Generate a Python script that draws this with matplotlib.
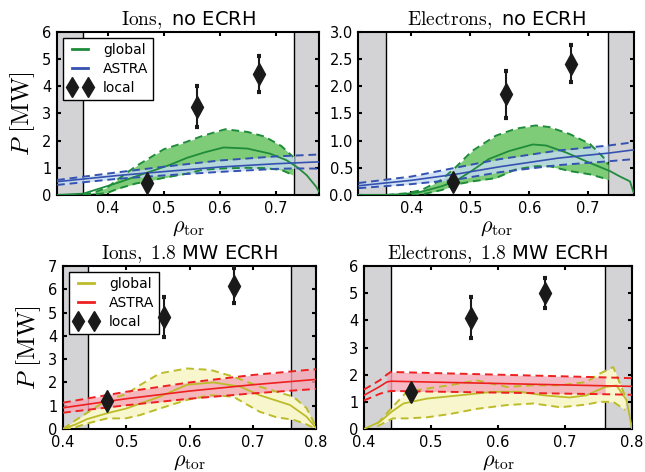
import matplotlib
matplotlib.use('Agg')
import matplotlib.pyplot as plt
import numpy as np
from matplotlib.lines import Line2D

plt.rcParams['mathtext.fontset'] = 'cm'
plt.rcParams['font.family'] = 'DejaVu Sans'

# --- local (diamonds with error bars) ---
rho_loc = [0.47, 0.56, 0.67]
P_loc_i0 = [0.45, 3.25, 4.45]
err_loc_i0 = [0.15, 0.75, 0.65]
P_loc_e0 = [0.23, 1.85, 2.42]
err_loc_e0 = [0.1, 0.44, 0.34]
P_loc_i1 = [1.2, 4.8, 6.15]
err_loc_i1 = [0.18, 0.85, 0.75]
P_loc_e1 = [1.38, 4.1, 5.0]
err_loc_e1 = [0.2, 0.75, 0.55]

# --- global band, ions no ECRH ---
rho_band_i0 = [0.357, 0.38, 0.40, 0.42, 0.45, 0.47, 0.50, 0.54, 0.57, 0.61, 0.65, 0.68, 0.71, 0.731]
up_i0 = [0.0, 0.12, 0.28, 0.6, 1.05, 1.3, 1.68, 1.95, 2.18, 2.42, 2.32, 2.15, 1.8, 1.4]
lo_i0 = [0.0, 0.03, 0.08, 0.24, 0.42, 0.5, 0.63, 0.78, 0.93, 0.98, 1.0, 0.99, 0.92, 0.73]
rho_mid_i0 = [0.31, 0.357, 0.377, 0.40, 0.424, 0.45, 0.483, 0.51, 0.542, 0.575, 0.607, 0.649, 0.69, 0.719, 0.737, 0.755, 0.772, 0.777]
mid_i0 = [0.0, 0.05, 0.18, 0.33, 0.49, 0.68, 0.91, 1.1, 1.37, 1.58, 1.75, 1.71, 1.52, 1.28, 1.04, 0.73, 0.3, 0.12]

# --- global band, electrons no ECRH ---
rho_band_e0 = [0.357, 0.39, 0.417, 0.451, 0.474, 0.503, 0.543, 0.577, 0.611, 0.634, 0.669, 0.703, 0.726, 0.734]
up_e0 = [0.0, 0.03, 0.09, 0.28, 0.5, 0.81, 1.09, 1.22, 1.28, 1.25, 1.12, 0.94, 0.69, 0.56]
lo_e0 = [0.0, 0.0, 0.01, 0.09, 0.19, 0.25, 0.31, 0.47, 0.53, 0.53, 0.44, 0.38, 0.31, 0.28]
rho_mid_e0 = [0.31, 0.357, 0.39, 0.417, 0.451, 0.474, 0.503, 0.531, 0.566, 0.606, 0.629, 0.663, 0.703, 0.737, 0.754, 0.771, 0.777]
mid_e0 = [0.0, 0.0, 0.02, 0.06, 0.16, 0.25, 0.45, 0.66, 0.81, 0.93, 0.91, 0.78, 0.59, 0.44, 0.34, 0.25, 0.05]

# --- ASTRA, no ECRH ---
rho_ast_i0 = [0.31, 0.42, 0.5, 0.6, 0.7, 0.733, 0.777]
ast_i0 = [0.49, 0.72, 0.86, 1.03, 1.15, 1.18, 1.22]
ast_up_i0 = [0.55, 0.84, 1.04, 1.27, 1.42, 1.45, 1.49]
ast_lo_i0 = [0.37, 0.6, 0.72, 0.85, 0.96, 0.98, 0.97]
rho_ast_e0 = [0.31, 0.4, 0.474, 0.55, 0.65, 0.734, 0.777]
ast_e0 = [0.17, 0.27, 0.38, 0.52, 0.68, 0.77, 0.83]
ast_up_e0 = [0.22, 0.34, 0.5, 0.66, 0.82, 0.91, 0.97]
ast_lo_e0 = [0.125, 0.2, 0.28, 0.42, 0.55, 0.62, 0.66]

# --- global band, ions 1.8 MW ECRH ---
rho_band_i1 = [0.40, 0.416, 0.44, 0.469, 0.5, 0.522, 0.553, 0.596, 0.633, 0.669, 0.711, 0.738, 0.764, 0.785, 0.8]
up_i1 = [0.0, 0.31, 0.73, 1.24, 1.5, 1.89, 2.39, 2.6, 2.54, 2.25, 1.82, 1.6, 1.39, 0.9, 0.1]
lo_i1 = [0.0, 0.05, 0.25, 0.45, 0.46, 0.6, 0.88, 1.25, 1.45, 1.39, 0.74, 0.5, 0.4, 0.2, 0.0]
rho_mid_i1 = [0.40, 0.42, 0.4375, 0.47, 0.5, 0.553, 0.596, 0.638, 0.68, 0.711, 0.759, 0.785, 0.8]
mid_i1 = [0.0, 0.2, 0.42, 0.68, 0.88, 1.39, 1.9, 2.0, 1.82, 1.45, 1.03, 0.53, 0.05]

# --- global band, electrons 1.8 MW ECRH ---
rho_band_e1 = [0.42, 0.443, 0.464, 0.494, 0.528, 0.568, 0.613, 0.653, 0.693, 0.732, 0.752, 0.772, 0.79]
up_e1 = [0.2, 0.82, 1.37, 1.49, 1.61, 1.79, 1.55, 1.61, 1.61, 1.73, 2.04, 2.28, 1.2]
lo_e1 = [0.1, 0.39, 0.39, 0.43, 0.55, 0.74, 0.88, 0.94, 0.8, 0.9, 1.0, 1.0, 0.7]
rho_mid_e1 = [0.40, 0.424, 0.441, 0.459, 0.494, 0.543, 0.593, 0.633, 0.668, 0.707, 0.732, 0.76, 0.777, 0.792, 0.8]
mid_e1 = [0.0, 0.27, 0.63, 0.94, 1.12, 1.24, 1.37, 1.37, 1.24, 1.16, 1.24, 1.55, 1.6, 1.06, 0.02]

# --- ASTRA, 1.8 MW ECRH ---
rho_ast_i1 = [0.4, 0.5, 0.6, 0.7, 0.8]
ast_i1 = [0.91, 1.3, 1.63, 1.9, 2.13]
ast_up_i1 = [1.13, 1.6, 2.0, 2.32, 2.57]
ast_lo_i1 = [0.7, 1.02, 1.3, 1.53, 1.72]
rho_ast_e1 = [0.40, 0.424, 0.434, 0.44, 0.76, 0.8]
ast_e1 = [1.24, 1.57, 1.73, 1.76, 1.59, 1.57]
ast_up_e1 = [1.45, 1.8, 2.0, 2.1, 1.9, 1.87]
ast_lo_e1 = [1.05, 1.3, 1.37, 1.4, 1.28, 1.26]

titles = [r'$\mathrm{Ions,}$ no ECRH', r'$\mathrm{Electrons,}$ no ECRH',
          r'$\mathrm{Ions,}\ 1.8$ MW ECRH', r'$\mathrm{Electrons,}\ 1.8$ MW ECRH']

green, green_fill = '#1e8c3a', '#7fcc78'
blue, blue_fill = '#3552b0', '#c6dcf3'
yel, yel_fill = '#bcbc2a', '#f8f6cc'
red, red_fill = '#ee2020', '#f4a9b8'

fig = plt.figure(figsize=(6.45, 4.72), dpi=100)
positions = [[0.0884, 0.5869, 0.4062, 0.3453], [0.5558, 0.5869, 0.4264, 0.3453],
             [0.0977, 0.0911, 0.3922, 0.3453], [0.5643, 0.0911, 0.4155, 0.3453]]
axes = [fig.add_axes(p) for p in positions]


def panel(ax, xlim, grey, band, mid, ast, loc, gc, gf, ac, af, ast_where):
    rb, up, lo = band
    rm, m = mid
    ra, a, au, al = ast
    ax.axvspan(xlim[0], grey[0], fc='#d3d3d6', ec='none', zorder=0)
    ax.axvspan(grey[1], xlim[1], fc='#d3d3d6', ec='none', zorder=0)
    ax.axvline(grey[0], color='k', lw=1.0, zorder=1)
    ax.axvline(grey[1], color='k', lw=1.0, zorder=1)
    # global
    ax.fill_between(rb, lo, up, color=gf, lw=0, zorder=2)
    ax.plot(rb, up, '--', color=gc, lw=1.4, dashes=(4, 2.5), zorder=3)
    ax.plot(rb, lo, '--', color=gc, lw=1.4, dashes=(4, 2.5), zorder=3)
    ax.plot(rm, m, '-', color=gc, lw=1.3, zorder=3)
    # ASTRA
    ra = np.array(ra)
    w = (ra >= ast_where[0]) & (ra <= ast_where[1])
    ax.fill_between(ra, al, au, where=w, color=af, lw=0, alpha=0.8, zorder=2.5)
    ax.plot(ra, au, '--', color=ac, lw=1.4, dashes=(4, 2.5), zorder=3.5)
    ax.plot(ra, al, '--', color=ac, lw=1.4, dashes=(4, 2.5), zorder=3.5)
    ax.plot(ra, a, '-', color=ac, lw=1.2, zorder=3.5)
    # local
    rl, pl, el = loc
    ax.errorbar(rl, pl, yerr=el, fmt='d', color='#1a1a1a', ms=11, elinewidth=1.5,
                capsize=1.5, capthick=3, zorder=5)
    ax.set_xlim(*xlim)
    ax.tick_params(direction='in', top=True, right=True, length=3, width=1.5,
                   labelsize=10.5, pad=4)
    for s in ax.spines.values():
        s.set_linewidth(1.5)
    ax.set_xlabel(r'$\rho_\mathrm{tor}$', fontsize=16, labelpad=2)


panel(axes[0], (0.31, 0.777), (0.357, 0.733), (rho_band_i0, up_i0, lo_i0),
      (rho_mid_i0, mid_i0), (rho_ast_i0, ast_i0, ast_up_i0, ast_lo_i0),
      (rho_loc, P_loc_i0, err_loc_i0), green, green_fill, blue, blue_fill, (0.31, 0.733))
panel(axes[1], (0.31, 0.777), (0.357, 0.734), (rho_band_e0, up_e0, lo_e0),
      (rho_mid_e0, mid_e0), (rho_ast_e0, ast_e0, ast_up_e0, ast_lo_e0),
      (rho_loc, P_loc_e0, err_loc_e0), green, green_fill, blue, blue_fill, (0.31, 0.734))
panel(axes[2], (0.4, 0.8), (0.439, 0.76), (rho_band_i1, up_i1, lo_i1),
      (rho_mid_i1, mid_i1), (rho_ast_i1, ast_i1, ast_up_i1, ast_lo_i1),
      (rho_loc, P_loc_i1, err_loc_i1), yel, yel_fill, red, red_fill, (0.4, 0.8))
panel(axes[3], (0.4, 0.8), (0.44, 0.76), (rho_band_e1, up_e1, lo_e1),
      (rho_mid_e1, mid_e1), (rho_ast_e1, ast_e1, ast_up_e1, ast_lo_e1),
      (rho_loc, P_loc_e1, err_loc_e1), yel, yel_fill, red, red_fill, (0.434, 0.76))

axes[0].set_ylim(0, 6)
axes[0].set_yticks(range(0, 7))
axes[1].set_ylim(0, 3)
axes[1].set_yticks(np.arange(0, 3.01, 0.5))
axes[2].set_ylim(0, 7)
axes[2].set_yticks(range(0, 8))
axes[3].set_ylim(0, 6)
axes[3].set_yticks(range(0, 7))
for ax in axes[:2]:
    ax.set_xticks([0.4, 0.5, 0.6, 0.7])
for ax in axes[2:]:
    ax.set_xticks([0.4, 0.5, 0.6, 0.7, 0.8])

for ax, t in zip(axes, titles):
    ax.set_title(t, fontsize=14, pad=5)

for ax in (axes[0], axes[2]):
    ax.set_ylabel(r'$P\ [\mathrm{MW}]$', fontsize=18, labelpad=4)

for ax, gc, ac in ((axes[0], green, blue), (axes[2], yel, red)):
    handles = [Line2D([], [], color=gc, lw=2),
               Line2D([], [], color=ac, lw=2),
               Line2D([], [], ls='none', marker='d', color='#1a1a1a', ms=10)]
    leg = ax.legend(handles, ['global', 'ASTRA', 'local'], loc='upper left',
                    fontsize=10, numpoints=2, fancybox=False, framealpha=1,
                    edgecolor='k', borderaxespad=0.45, handletextpad=0.8,
                    handlelength=1.7, labelspacing=0.35, borderpad=0.35)
    leg.get_frame().set_linewidth(1.0)
    leg.set_zorder(4)

fig.savefig('out.png', dpi=100)
